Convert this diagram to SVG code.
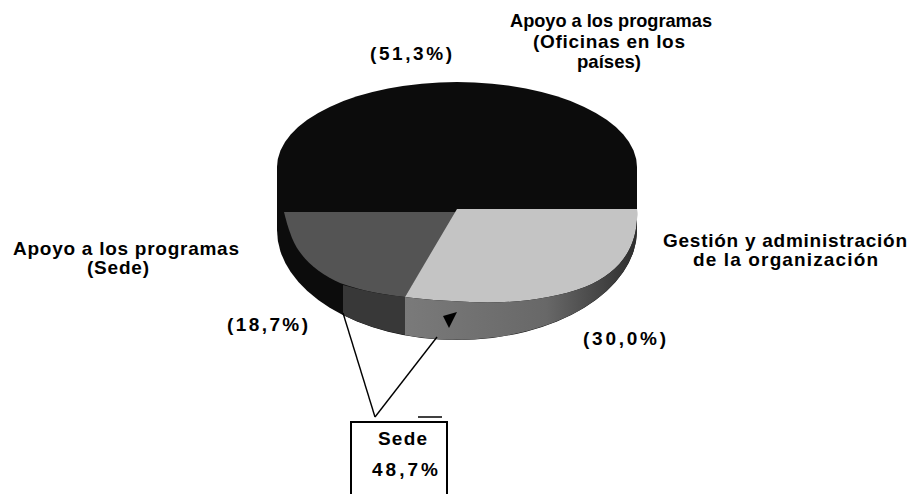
<svg xmlns="http://www.w3.org/2000/svg" width="912" height="494" viewBox="0 0 912 494">
  <style>
    text { font-family: "Liberation Sans", Arial, sans-serif; font-weight: bold; font-size: 19px; fill: #000; }
    .line { stroke: #000; stroke-width: 1.4; fill: none; }
  </style>
  <defs>
    <linearGradient id="bandGrad" gradientUnits="userSpaceOnUse" x1="405" y1="0" x2="640" y2="0">
      <stop offset="0" stop-color="#7a7a7a"/>
      <stop offset="0.6" stop-color="#686868"/>
      <stop offset="1" stop-color="#2c2c2c"/>
    </linearGradient>
  </defs>
  <rect width="912" height="494" fill="#fff"/>

  <g id="pie">
    <path id="silhouette" d="M277,167 A180,85 0 0 1 637,167 L637,230 A180,110 0 0 1 277,230 Z" fill="#0c0c0c"/>
    <path id="slice-sede-top" d="M284,212 L457,212 L405,297 C385,295 362,291 340,283 C318,273 300,258 292,238 C288,228 286,220 284,212 Z" fill="#545454"/>
    <path id="slice-sede-side" d="M343,285 C360,290 385,295 405,297 L405,335 A180,110 0 0 1 343,315 Z" fill="#383838"/>
    <path id="slice-gestion-top" d="M457,209 L637,209 C639,245 622,272 585,287 C552,300 505,304 470,302 C445,301 420,299 405,297 Z" fill="#c4c4c4"/>
    <path id="slice-gestion-side" d="M405,297 C420,299 445,301 470,302 C505,304 552,300 585,287 C622,272 639,245 637,209 L637,230 A180,110 0 0 1 405,335 Z" fill="url(#bandGrad)"/>
    <polygon id="arrowhead" points="443,316 457,312 449,328" fill="#000"/>
  </g>

  <g id="labels">
    <g id="label-oficinas">
      <text x="510" y="27" textLength="202" lengthAdjust="spacingAndGlyphs">Apoyo a los programas</text>
      <text x="533" y="48" textLength="152" lengthAdjust="spacing">(Oficinas en los</text>
      <text x="577" y="68" textLength="64" lengthAdjust="spacingAndGlyphs">países)</text>
      <text x="370" y="60" textLength="82" lengthAdjust="spacing">(51,3%)</text>
    </g>
    <g id="label-gestion">
      <text x="663" y="247" textLength="244" lengthAdjust="spacing">Gestión y administración</text>
      <text x="693" y="266" textLength="185" lengthAdjust="spacing">de la organización</text>
      <text x="583" y="345" textLength="83" lengthAdjust="spacing">(30,0%)</text>
    </g>
    <g id="label-sede">
      <text x="13" y="255" textLength="226" lengthAdjust="spacing">Apoyo a los programas</text>
      <text x="87" y="274" textLength="62" lengthAdjust="spacing">(Sede)</text>
      <text x="227" y="331" textLength="81" lengthAdjust="spacing">(18,7%)</text>
    </g>
  </g>

  <g id="connectors">
    <line class="line" x1="343" y1="313" x2="375" y2="417"/>
    <line class="line" x1="437" y1="337" x2="375" y2="417"/>
  </g>

  <g id="callout-box">
    <path d="M351,500 L351,422 L447,422 L447,500" fill="none" stroke="#000" stroke-width="2"/>
    <line x1="418" y1="417" x2="442" y2="417" stroke="#000" stroke-width="1.5"/>
    <text x="378" y="445" textLength="49" lengthAdjust="spacing">Sede</text>
    <text x="372" y="476" textLength="66" lengthAdjust="spacing">48,7%</text>
  </g>
</svg>
